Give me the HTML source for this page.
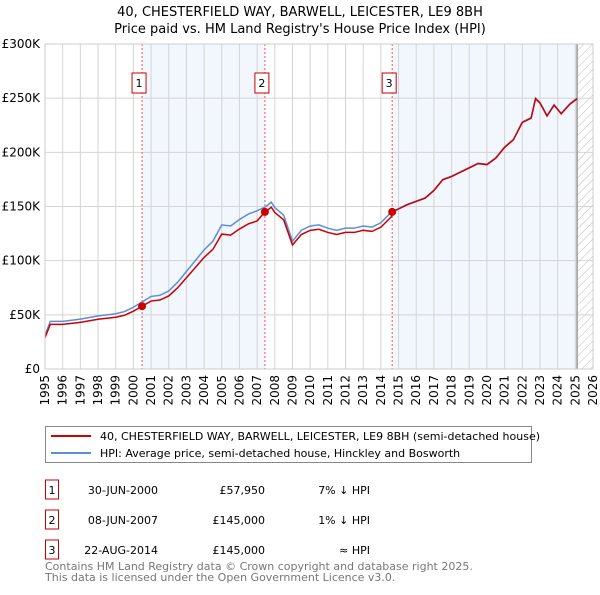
<!DOCTYPE html>
<html><head><meta charset="utf-8"><style>
body{margin:0;background:#fff;font-family:"Liberation Sans","DejaVu Sans",sans-serif;}
svg text{font-family:"DejaVu Sans","Liberation Sans",sans-serif;}
</style></head><body>
<svg id="chart" width="600" height="590" xmlns="http://www.w3.org/2000/svg">
<defs><pattern id="hatch" width="6" height="6" patternUnits="userSpaceOnUse" patternTransform="rotate(45)"><line x1="0" y1="0" x2="0" y2="6" stroke="#bbb" stroke-width="1"/></pattern></defs>
<text x="300" y="16" text-anchor="middle" font-size="13">40, CHESTERFIELD WAY, BARWELL, LEICESTER, LE9 8BH</text>
<text x="300" y="33" text-anchor="middle" font-size="13">Price paid vs. HM Land Registry's House Price Index (HPI)</text>
<g id="plot"></g>
<g>
<rect x="45.5" y="426.5" width="486" height="36" fill="#fff" stroke="#888"/>
<line x1="51" y1="436" x2="91" y2="436" stroke="#cc0000" stroke-width="2"/>
<text x="100" y="440" font-size="11">40, CHESTERFIELD WAY, BARWELL, LEICESTER, LE9 8BH (semi-detached house)</text>
<line x1="51" y1="453" x2="91" y2="453" stroke="#5b8fd4" stroke-width="2"/>
<text x="100" y="457" font-size="11">HPI: Average price, semi-detached house, Hinckley and Bosworth</text>
</g>
<g id="table" font-size="11"></g>
<text x="45" y="570" font-size="11" fill="#777">Contains HM Land Registry data © Crown copyright and database right 2025.</text>
<text x="45" y="581" font-size="11" fill="#777">This data is licensed under the Open Government Licence v3.0.</text>
</svg>
<script>
const dates=[1995.0,1995.3,1996,1997,1998,1998.5,1999,1999.5,2000,2000.5,2001,2001.5,2002,2002.5,2003,2003.5,2004,2004.5,2005,2005.5,2006,2006.5,2007,2007.5,2007.8,2008,2008.5,2009,2009.5,2010,2010.5,2011,2011.5,2012,2012.5,2013,2013.5,2014,2014.6,2015,2015.5,2016,2016.5,2017,2017.5,2018,2018.5,2019,2019.5,2020,2020.5,2021,2021.5,2022,2022.5,2022.75,2023,2023.4,2023.8,2024.2,2024.7,2025.1];
const hpi=[31,44,44,46,49,50,51,53,57,62,67,68,72,80,90,100,110,118,133,132,138,143,146,150,154,149,142,118,128,132,133,130,128,130,130,132,131,135,145,148,152,155,158,165,175,178,182,186,190,189,195,205,212,228,232,250,246,234,244,236,245,250];
const saleDates=[2000.49,2007.44,2014.64];
const salePrices=[57950,145000,145000];
const saleLabels=["1","2","3"];
const saleDateText=["30-JUN-2000","08-JUN-2007","22-AUG-2014"];
const salePriceText=["£57,950","£145,000","£145,000"];
const saleHpiText=["7% ↓ HPI","1% ↓ HPI","≈ HPI"];
const yTicks=[0,50,100,150,200,250,300];
const yTickLabels=["£0","£50K","£100K","£150K","£200K","£250K","£300K"];
const xYears=[];for(let y=1995;y<=2026;y++)xYears.push(y);

const X0=45,X1=593,Y0=369,Y1=44;
const x=d=>X0+(d-1995)*(X1-X0)/31;
const y=v=>Y0-v*(Y0-Y1)/300;
const NS="http://www.w3.org/2000/svg";
const plot=document.getElementById('plot');
function mk(tag,attrs,parent){const e=document.createElementNS(NS,tag);for(const k in attrs)e.setAttribute(k,attrs[k]);(parent||plot).appendChild(e);return e;}
function interp(d){for(let i=1;i<dates.length;i++){if(d<=dates[i]){const t=(d-dates[i-1])/(dates[i]-dates[i-1]);return hpi[i-1]+t*(hpi[i]-hpi[i-1]);}}return hpi[hpi.length-1];}
const endD=dates[dates.length-1];
[[saleDates[0],saleDates[1]],[saleDates[2],endD]].forEach(r=>{const e=mk('rect',{x:x(r[0]),y:Y1,width:x(r[1])-x(r[0]),height:Y0-Y1,fill:'#f2f6fd'});

});
const h=mk('rect',{x:x(endD),y:Y1,width:X1-x(endD),height:Y0-Y1,fill:'url(#hatch)'});


xYears.forEach(yr=>{const l=mk('line',{x1:x(yr),x2:x(yr),y1:Y1,y2:Y0,stroke:'#d4d4d4'});


const t=mk('text',{x:0,y:0,'font-size':12,'text-anchor':'end',transform:`translate(${x(yr)+4},${Y0+6}) rotate(-90)`});t.textContent=yr;

});
yTicks.forEach((v,i)=>{const l=mk('line',{x1:X0,x2:X1,y1:y(v),y2:y(v),stroke:'#d4d4d4'});


const t=mk('text',{x:40,y:y(v)+4,'font-size':12,'text-anchor':'end'});t.textContent=yTickLabels[i];

});
const el=mk('line',{x1:x(endD),x2:x(endD),y1:Y1,y2:Y0,stroke:'#999','stroke-width':1.5});


saleDates.forEach((d,i)=>{const l=mk('line',{x1:x(d),x2:x(d),y1:Y1,y2:Y0,stroke:'#e55','stroke-dasharray':'2,2'});


const b=mk('rect',{x:x(d)-10,y:73,width:14,height:20,fill:'#fff',stroke:'#cc0000'});


const t=mk('text',{x:x(d)-3,y:87,'font-size':11,'text-anchor':'middle'});t.textContent=saleLabels[i];

});
const hp=mk('polyline',{points:dates.map((d,i)=>x(d)+','+y(hpi[i])).join(' '),fill:'none',stroke:'#5b8fd4','stroke-width':1.5});


function ratioAt(d){let k=0;for(let i=0;i<saleDates.length;i++)if(d>=saleDates[i])k=i;return salePrices[k]/1000/interp(saleDates[k]);}
const pts=[];const all=dates.concat(saleDates).sort((a,b)=>a-b);
all.forEach(d=>{pts.push(x(d)+','+y(interp(d)*ratioAt(d)));});
const pl=mk('polyline',{points:pts.join(' '),fill:'none',stroke:'#cc0000','stroke-width':1.5});


saleDates.forEach((d,i)=>{const c=mk('circle',{cx:x(d),cy:y(salePrices[i]/1000),r:4,fill:'#cc0000'});

});
mk('rect',{x:X0,y:Y1,width:X1-X0,height:Y0-Y1,fill:'none',stroke:'#ccc'});
const tb=document.getElementById('table');
saleLabels.forEach((s,i)=>{const yy=493+i*30;
const b=mk('rect',{x:45.5,y:yy-13,width:13,height:19,fill:'#fff',stroke:'#cc0000'},tb);


const cells=[[52,'middle',s],[158,'end',saleDateText[i]],[265,'end',salePriceText[i]],[370,'end',saleHpiText[i]]];
cells.forEach(c=>{const t=mk('text',{x:c[0],y:yy+1,'text-anchor':c[1]},tb);t.textContent=c[2];

});});
</script>
</body></html>
